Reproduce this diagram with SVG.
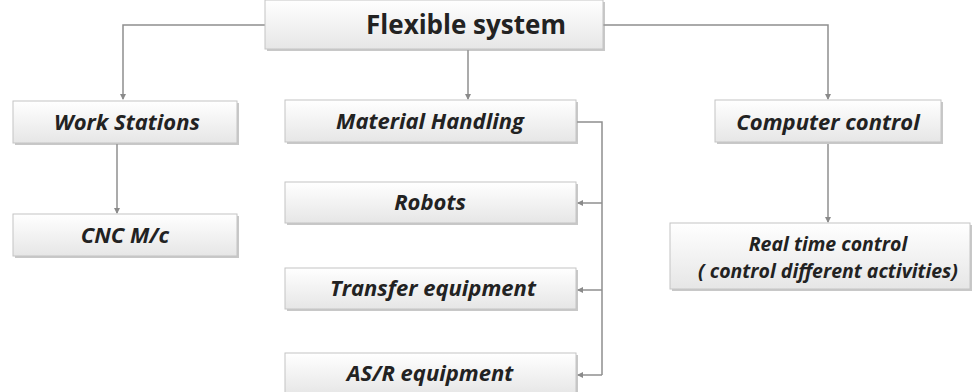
<svg xmlns="http://www.w3.org/2000/svg" width="975" height="392" viewBox="0 0 975 392">
<defs>
<linearGradient id="g" x1="0" y1="0" x2="0" y2="1">
<stop offset="0" stop-color="#ffffff"/>
<stop offset="1" stop-color="#e6e6e6"/>
</linearGradient>
<marker id="a" markerWidth="6" markerHeight="6" refX="5" refY="3" orient="auto" markerUnits="userSpaceOnUse">
<path d="M0,0 L6,3 L0,6 z" fill="#8a8a8a"/>
</marker>
<style>
.box{fill:url(#g);stroke:#c4c4c4;stroke-width:1}
.sh{fill:#9a9a9a;opacity:0.55}
.t{font-family:"Open Sans","Liberation Sans",sans-serif;font-weight:bold;font-style:italic;font-size:22px;fill:#222;text-anchor:middle}
.s{font-size:19.5px}
.c{fill:none;stroke:#8f8f8f;stroke-width:1.5}
</style>
</defs>
<rect width="975" height="392" fill="#ffffff"/>
<g id="connectors">
<path class="c" d="M265,25 H123 V99" marker-end="url(#a)"/>
<path class="c" d="M603,25 H828 V99" marker-end="url(#a)"/>
<path class="c" d="M468,50 V99" marker-end="url(#a)"/>
<path class="c" d="M117,144 V213" marker-end="url(#a)"/>
<path class="c" d="M828,144 V222" marker-end="url(#a)"/>
<path class="c" d="M577,122 H602 V375"/>
<path class="c" d="M602,203 H578" marker-end="url(#a)"/>
<path class="c" d="M602,290 H578" marker-end="url(#a)"/>
<path class="c" d="M602,375 H578" marker-end="url(#a)"/>
</g>
<g id="flexible-system">
<rect class="sh" x="267" y="2" width="338" height="49"/>
<rect class="box" x="265" y="0" width="338" height="49"/>
<text class="t" x="466" y="34" style="font-style:normal;font-size:26px">Flexible system</text>
</g>
<g id="work-stations">
<rect class="sh" x="15" y="103" width="224" height="42"/>
<rect class="box" x="13" y="101" width="224" height="42"/>
<text class="t" x="127" y="130">Work Stations</text>
</g>
<g id="cnc">
<rect class="sh" x="15" y="216" width="224" height="42"/>
<rect class="box" x="13" y="214" width="224" height="42"/>
<text class="t" x="125" y="243">CNC M/c</text>
</g>
<g id="material-handling">
<rect class="sh" x="287" y="102" width="291" height="42"/>
<rect class="box" x="285" y="100" width="291" height="42"/>
<text class="t" x="430" y="129">Material Handling</text>
</g>
<g id="robots">
<rect class="sh" x="287" y="184" width="291" height="41"/>
<rect class="box" x="285" y="182" width="291" height="41"/>
<text class="t" x="430" y="210">Robots</text>
</g>
<g id="transfer-equipment">
<rect class="sh" x="287" y="270" width="291" height="41"/>
<rect class="box" x="285" y="268" width="291" height="41"/>
<text class="t" x="433" y="296">Transfer equipment</text>
</g>
<g id="asr-equipment">
<rect class="sh" x="287" y="355" width="291" height="42"/>
<rect class="box" x="285" y="353" width="291" height="42"/>
<text class="t" x="430" y="381">AS/R equipment</text>
</g>
<g id="computer-control">
<rect class="sh" x="717" y="102" width="226" height="42"/>
<rect class="box" x="715" y="100" width="226" height="42"/>
<text class="t" x="828" y="130">Computer control</text>
</g>
<g id="real-time-control">
<rect class="sh" x="672" y="225" width="300" height="66"/>
<rect class="box" x="670" y="223" width="300" height="66"/>
<text class="t s" x="828" y="251">Real time control</text>
<text class="t s" x="828" y="278">( control different activities)</text>
</g>
</svg>
